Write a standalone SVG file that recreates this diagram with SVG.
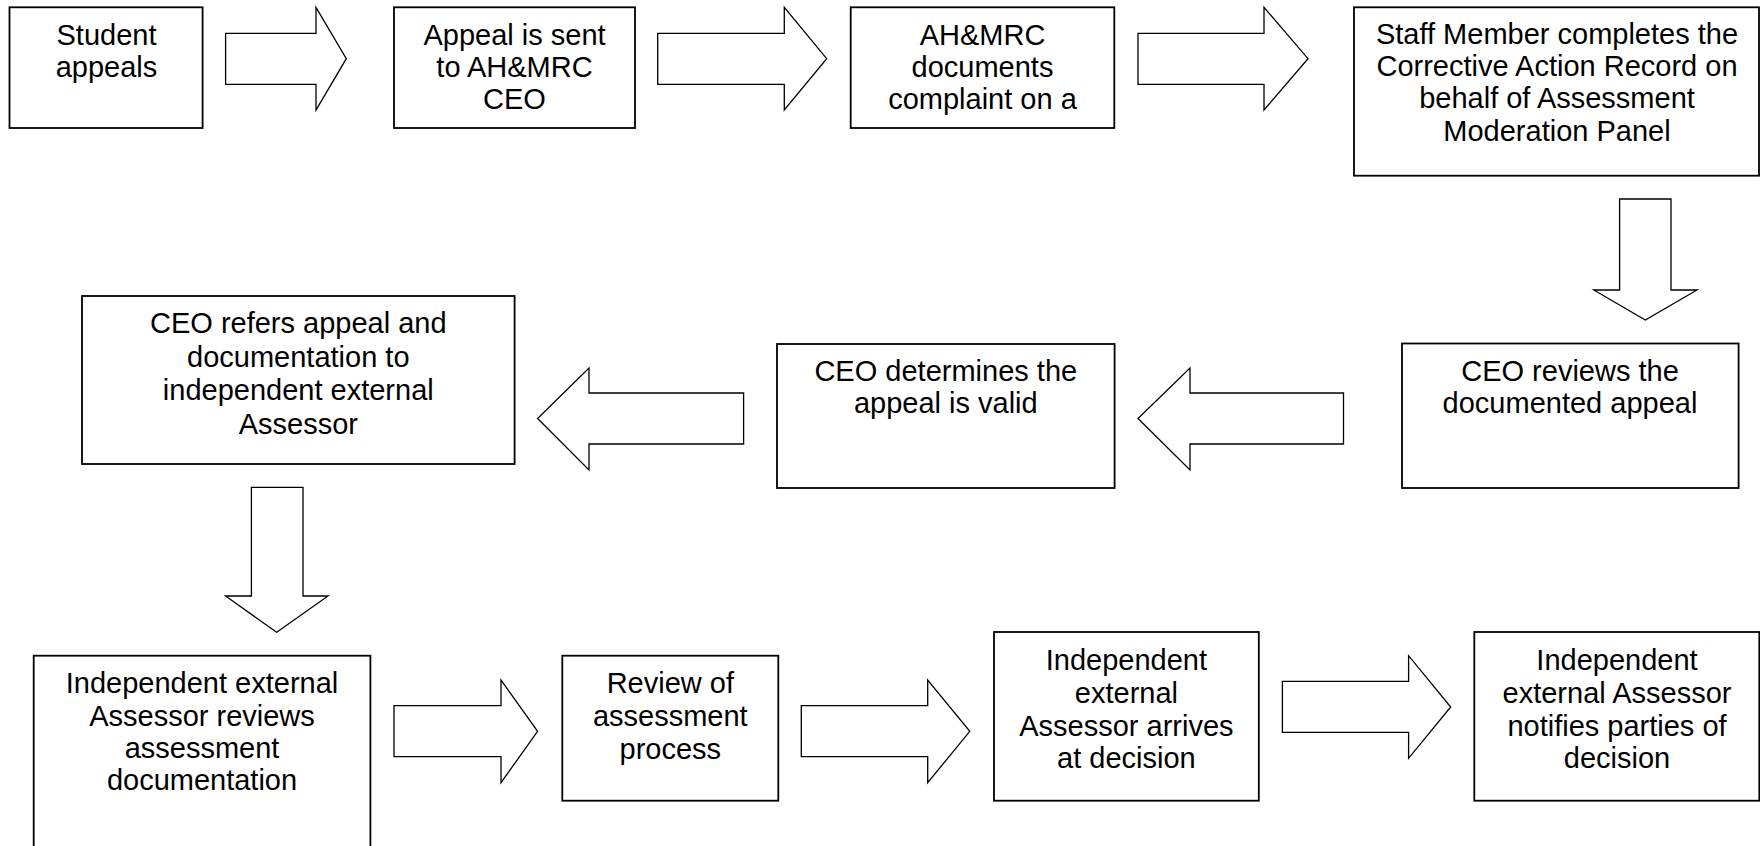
<svg xmlns="http://www.w3.org/2000/svg" width="1760" height="846" viewBox="0 0 1760 846">
<style>
.box{fill:#fff;stroke:#000;stroke-width:1.8}
.arr{fill:#fff;stroke:#000;stroke-width:1.3;stroke-linejoin:miter}
text{font-family:"Liberation Sans",Arial,sans-serif;font-size:29px;fill:#000;text-anchor:middle}
</style>
<rect width="1760" height="846" fill="#fff"/>
<g id="connectors">
<path class="arr" d="M225.6,33.3 H316 V7.3 L346.3,58.7 L316,110 V84.3 H225.6 Z"/>
<path class="arr" d="M657.7,33.3 H784.3 V7.3 L826.7,58.7 L784.3,110 V84.3 H657.7 Z"/>
<path class="arr" d="M1138,33.3 H1264 V7.3 L1308,58.7 L1264,110 V84.3 H1138 Z"/>
<path class="arr" d="M1619.6,199 H1671 V290 H1697 L1645.3,320 L1593.8,290 H1619.6 Z"/>
<path class="arr" d="M1343.5,393 H1190 V368 L1138,418.5 L1190,470 V444 H1343.5 Z"/>
<path class="arr" d="M743.6,393 H589 V368 L537.6,418.5 L589,470 V444 H743.6 Z"/>
<path class="arr" d="M251.4,487.3 H303 V596 H328 L276.7,632.3 L225.6,596 H251.4 Z"/>
<path class="arr" d="M394,705.7 H501 V680 L537.6,731.3 L501,782.7 V756.7 H394 Z"/>
<path class="arr" d="M801.3,705.7 H927.7 V680 L969.8,731.3 L927.7,782.7 V756.7 H801.3 Z"/>
<path class="arr" d="M1282.4,681.3 H1408.6 V655.7 L1450.7,707 L1408.6,758.3 V732.3 H1282.4 Z"/>
</g>
<g id="n1"><rect class="box" x="9.5" y="7.3" width="193.1" height="120.7"/>
<text x="106.5" y="44.5">Student</text><text x="106.5" y="76.8">appeals</text></g>
<g id="n2"><rect class="box" x="394" y="7.3" width="241" height="120.7"/>
<text x="514.5" y="44.5">Appeal is sent</text><text x="514.5" y="76.8">to AH&amp;MRC</text><text x="514.5" y="109.1">CEO</text></g>
<g id="n3"><rect class="box" x="850.7" y="7.3" width="263.6" height="120.7"/>
<text x="982.5" y="44.5">AH&amp;MRC</text><text x="982.5" y="76.8">documents</text><text x="982.5" y="109.1">complaint on a</text></g>
<g id="n4"><rect class="box" x="1354" y="7.3" width="405" height="168.4"/>
<text x="1557" y="44">Staff Member completes the</text><text x="1557" y="76.2">Corrective Action Record on</text><text x="1557" y="108.4">behalf of Assessment</text><text x="1557" y="140.6">Moderation Panel</text></g>
<g id="n5"><rect class="box" x="1402" y="343.5" width="336.6" height="144.5"/>
<text x="1570" y="380.5">CEO reviews the</text><text x="1570" y="413">documented appeal</text></g>
<g id="n6"><rect class="box" x="777" y="344" width="337.6" height="144"/>
<text x="945.8" y="380.5">CEO determines the</text><text x="945.8" y="413">appeal is valid</text></g>
<g id="n7"><rect class="box" x="82" y="296" width="432.6" height="168"/>
<text x="298.3" y="333.3">CEO refers appeal and</text><text x="298.3" y="366.8">documentation to</text><text x="298.3" y="400.3">independent external</text><text x="298.3" y="433.8">Assessor</text></g>
<g id="n8"><rect class="box" x="33.7" y="655.7" width="336.7" height="200"/>
<text x="202" y="693.3">Independent external</text><text x="202" y="725.8">Assessor reviews</text><text x="202" y="758.1">assessment</text><text x="202" y="790.4">documentation</text></g>
<g id="n9"><rect class="box" x="562.3" y="655.7" width="216" height="145"/>
<text x="670.3" y="693.3">Review of</text><text x="670.3" y="726">assessment</text><text x="670.3" y="758.7">process</text></g>
<g id="n10"><rect class="box" x="994" y="632" width="264.8" height="168.7"/>
<text x="1126.4" y="669.7">Independent</text><text x="1126.4" y="702.6">external</text><text x="1126.4" y="735.5">Assessor arrives</text><text x="1126.4" y="768.4">at decision</text></g>
<g id="n11"><rect class="box" x="1474.3" y="632" width="285" height="168.7"/>
<text x="1617" y="669.7">Independent</text><text x="1617" y="702.6">external Assessor</text><text x="1617" y="735.5">notifies parties of</text><text x="1617" y="768.4">decision</text></g>
</svg>
